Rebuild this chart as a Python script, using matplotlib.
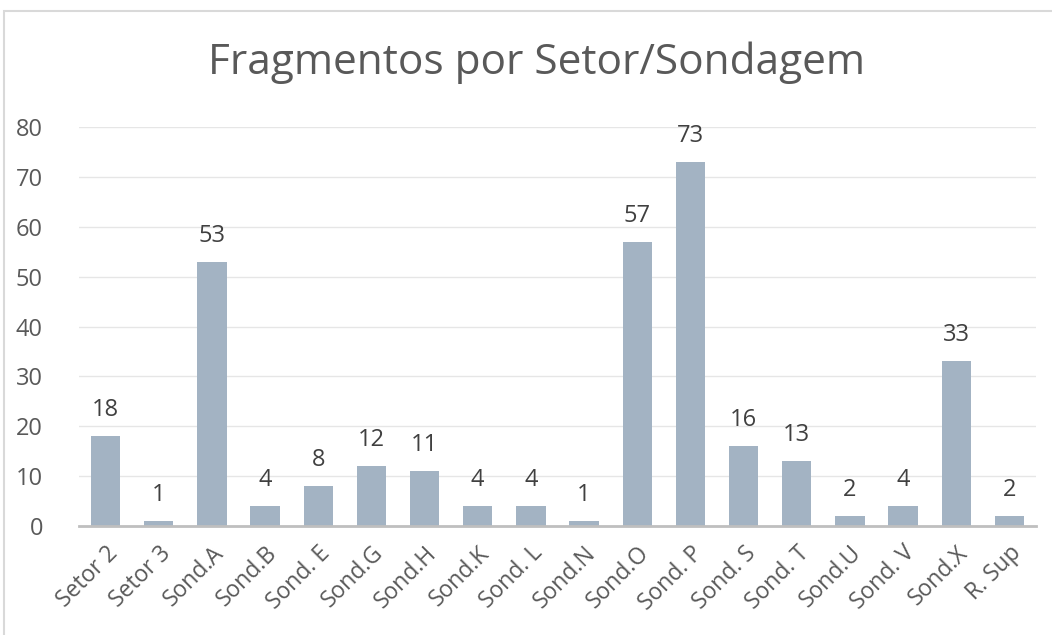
import matplotlib.pyplot as plt
from matplotlib.patches import Rectangle

categorias = ["Setor 2", "Setor 3", "Sond.A", "Sond.B", "Sond. E", "Sond.G", "Sond.H",
              "Sond.K", "Sond. L", "Sond.N", "Sond.O", "Sond. P", "Sond. S", "Sond. T",
              "Sond.U", "Sond. V", "Sond.X", "R. Sup"]
fragmentos = [18, 1, 53, 4, 8, 12, 11, 4, 4, 1, 57, 73, 16, 13, 2, 4, 33, 2]
y_ticks = [0, 10, 20, 30, 40, 50, 60, 70, 80]

plt.rcParams['font.family'] = ['Open Sans', 'DejaVu Sans']
texto = "#595959"
tam = 17

fig = plt.figure(figsize=(10.52, 6.35), dpi=100)
ax = fig.add_axes([79 / 1052, 1 - 526 / 635, (1036 - 79) / 1052, (526 - 127) / 635])

x = range(len(categorias))
barras = ax.bar(x, fragmentos, width=0.55, color="#A3B3C3", zorder=2)
for b, v in zip(barras, fragmentos):
    ax.text(b.get_x() + b.get_width() / 2, v + 2.8, str(v), ha="center", va="bottom",
            fontsize=tam, color="#404040")

ax.set_xlim(-0.5, len(categorias) - 0.5)
ax.set_ylim(0, 80)
ax.set_yticks(y_ticks)
ax.set_xticks(list(x))
ax.set_xticklabels(categorias, rotation=45, ha="right", rotation_mode="anchor",
                   fontsize=16.5, color=texto)
ax.tick_params(axis="y", labelsize=tam, labelcolor=texto, length=0, pad=26)
ax.tick_params(axis="x", length=0, pad=11)
ax.grid(axis="y", color="#E6E6E6", linewidth=1, zorder=0)
for s in ["top", "right", "left"]:
    ax.spines[s].set_visible(False)
ax.spines["bottom"].set_color("#BFBFBF")
ax.spines["bottom"].set_linewidth(2)

fig.text(536 / 1052, 1 - 63 / 635, "Fragmentos por Setor/Sondagem", ha="center",
         va="center", fontsize=30.5, color=texto)

# moldura do grafico
fig.add_artist(Rectangle((4 / 1052, -0.1), 1.2, 1 - 11 / 635 + 0.1, transform=fig.transFigure,
                         fill=False, edgecolor="#D9D9D9", linewidth=1.5))

fig.savefig("out.png", dpi=100)
